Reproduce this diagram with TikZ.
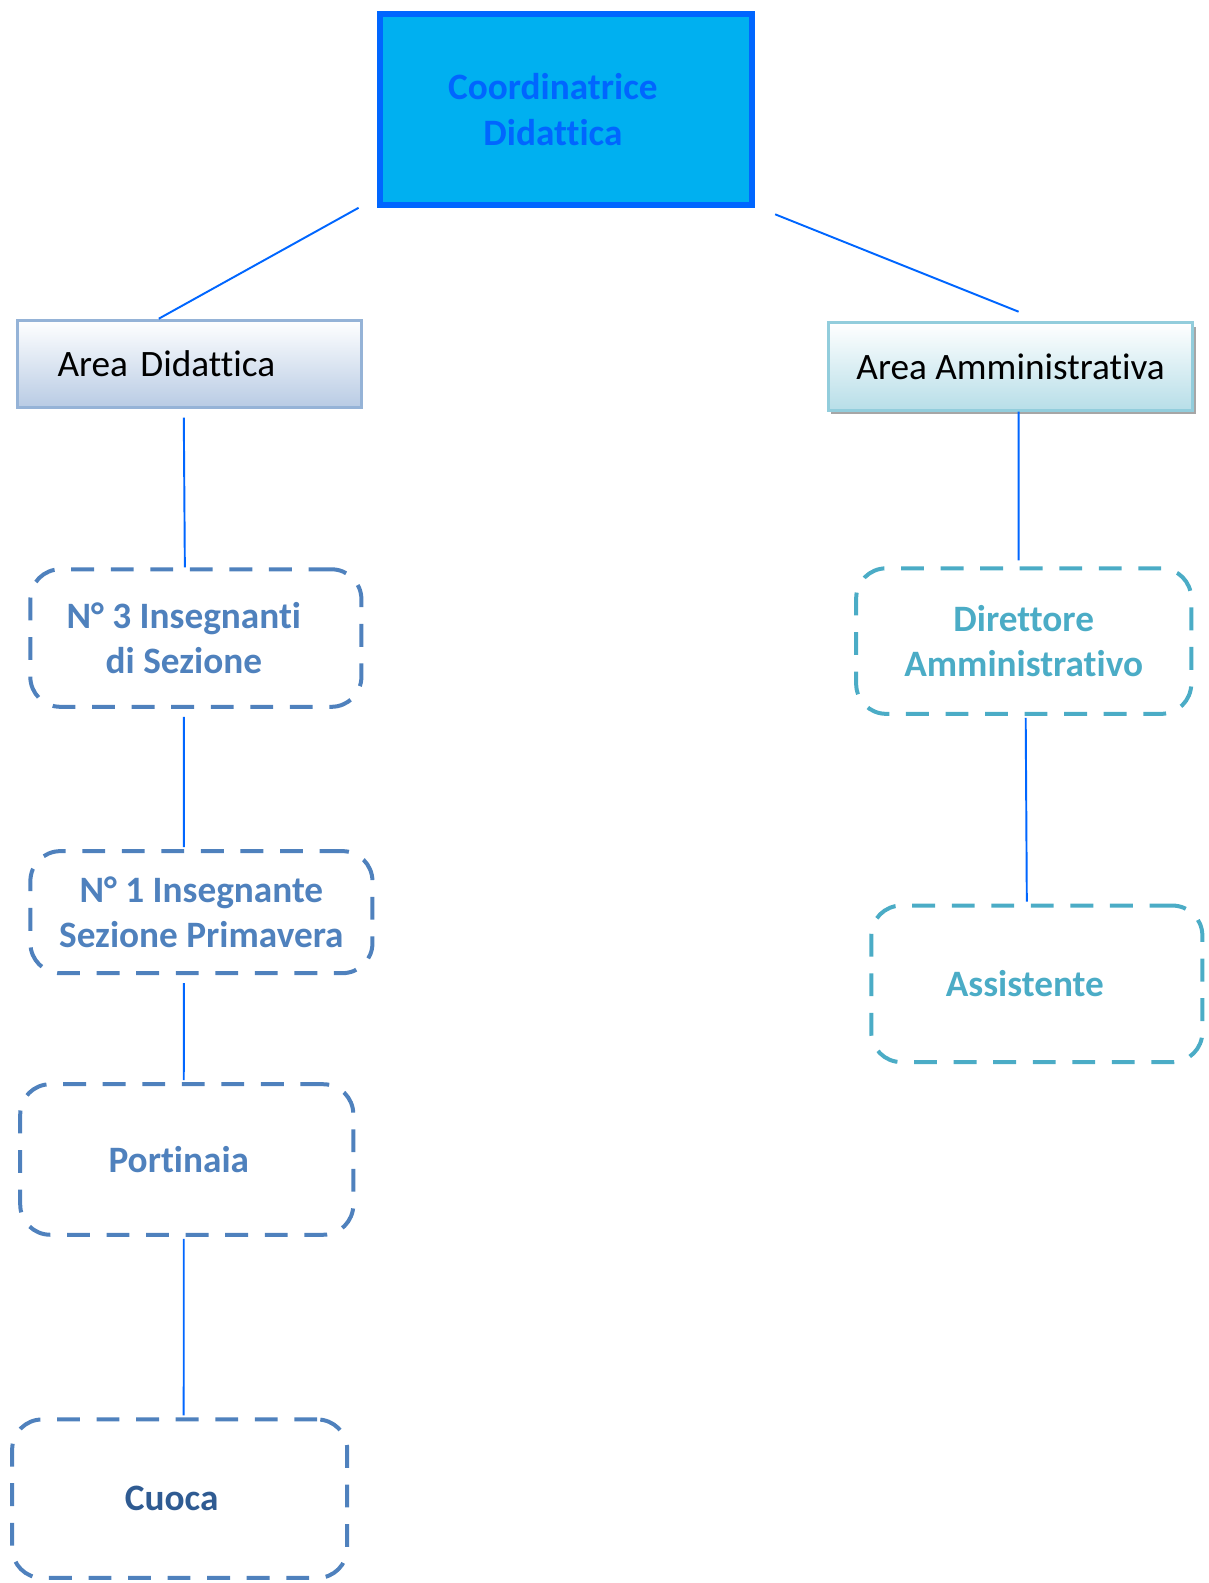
\documentclass[tikz,border=0pt]{standalone}
\usepackage{fontspec}
\setmainfont{Carlito}[Ligatures=NoCommon]
\usepackage{xcolor}
\usepackage{tikz}
\usetikzlibrary{shadows}
\definecolor{boxblue}{HTML}{00B0F0}
\definecolor{lineblue}{HTML}{0066FF}
\definecolor{dashblue}{HTML}{4F81BD}
\definecolor{dashcyan}{HTML}{4BACC6}
\definecolor{darkblue}{HTML}{2F5B92}
\definecolor{didtop}{HTML}{B8CBE4}
\definecolor{didedge}{HTML}{95B3D7}
\definecolor{ammtop}{HTML}{B7DEE8}
\definecolor{ammedge}{HTML}{92CDDC}
% moves a line of text a little to the left
\newcommand{\toleft}[1]{\hspace*{-#1}}

\begin{document}
\begin{tikzpicture}[
      x=0.02018cm, y=-0.02018cm,
      every node/.style={font=\fontsize{21.2}{25.8}\selectfont},
      head/.style={rectangle, draw=lineblue, fill=boxblue, line width=0.12cm, text=lineblue, font=\fontsize{21.2}{25.8}\selectfont\bfseries, align=center, minimum width=7.45cm, minimum height=3.81cm},
      area/.style={rectangle, draw=#1, line width=0.06cm, top color=white, minimum height=1.75cm},
      dashbox/.style={rectangle, rounded corners=0.6cm, draw=#1, text=#1, line width=0.08cm, dash pattern=on 13pt off 9.5pt, font=\fontsize{21.2}{25.8}\selectfont\bfseries, align=center},
      link/.style={draw=lineblue, line width=1.1pt}
    ]
      \useasboundingbox (0,0) rectangle (1197,1568);
      % Coordinatrice
      \node[head] (coord) at (560.5,108.5) {\toleft{0.52cm}Coordinatrice\\\toleft{0.52cm}Didattica};
      % Aree
      \node[area=didedge, bottom color=didtop, minimum width=6.88cm, text width=5.29cm, align=left] (didattica) at (188,360.5) {Area Didattica};
      \node[area=ammedge, bottom color=ammtop, minimum width=7.29cm, drop shadow={shadow xshift=0.06cm, shadow yshift=-0.08cm, fill=gray!70, opacity=1}] (amministrativa) at (1001,363) {Area Amministrativa};
      % Area didattica
      \node[dashbox=dashblue, minimum width=6.62cm, minimum height=2.75cm] (insegnanti) at (194,632) {\toleft{0.48cm}N° 3 Insegnanti\\\toleft{0.48cm}di Sezione};
      \node[dashbox=dashblue, minimum width=6.84cm, minimum height=2.44cm] (primavera) at (199.5,903.5) {N° 1 Insegnante\\Sezione Primavera};
      \node[dashbox=dashblue, minimum width=6.66cm, minimum height=3.01cm] (portinaia) at (185,1148.5) {\toleft{0.32cm}Portinaia};
      \node[dashbox=dashblue, text=darkblue, minimum width=6.7cm, minimum height=3.17cm] (cuoca) at (178,1484.5) {\toleft{0.32cm}Cuoca};
      % Area amministrativa
      \node[dashbox=dashcyan, minimum width=6.7cm, minimum height=2.91cm] (direttore) at (1014,635) {Direttore\\Amministrativo};
      \node[dashbox=dashcyan, minimum width=6.62cm, minimum height=3.13cm] (assistente) at (1027,974.5) {\toleft{0.48cm}Assistente};
      % Lines
      \draw[link] ([xshift=-0.36cm]coord.south west) -- ([xshift=-0.62cm]didattica.north);
      \draw[link] ([xshift=0.4cm,yshift=-0.13cm]coord.south east) -- ([xshift=0.16cm,yshift=0.19cm]amministrativa.north);
      \draw[link] ([xshift=-0.12cm,yshift=-0.17cm]didattica.south) -- ([xshift=-0.22cm]insegnanti.north);
      \draw[link] ([xshift=-0.24cm,yshift=-0.16cm]insegnanti.south) -- ([xshift=-0.35cm,yshift=0.04cm]primavera.north);
      \draw[link] ([xshift=-0.35cm,yshift=-0.16cm]primavera.south) -- ([xshift=-0.06cm,yshift=0.04cm]portinaia.north);
      \draw[link] ([xshift=-0.06cm,yshift=-0.04cm]portinaia.south) -- ([xshift=0.08cm,yshift=0.04cm]cuoca.north);
      \draw[link] ([xshift=0.16cm]amministrativa.south) -- ([xshift=-0.1cm,yshift=0.12cm]direttore.north);
      \draw[link] ([xshift=0.04cm,yshift=-0.04cm]direttore.south) -- ([xshift=-0.2cm,yshift=0.04cm]assistente.north);
    \end{tikzpicture}
\end{document}
